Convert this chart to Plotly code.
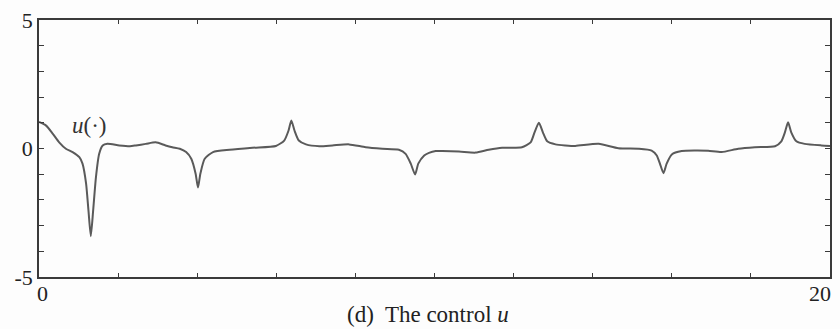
import plotly.graph_objects as go

# Control signal u(t) sampled along the time horizon [0, 20]
t_vals = [
    0.00, 0.18, 0.35, 0.51, 0.68, 0.85, 1.02, 1.10, 1.19, 1.25, 1.31, 1.37, 1.44,
    1.52, 1.61, 1.73, 2.03, 2.30, 2.45, 2.70, 2.95, 3.20, 3.37, 3.56, 3.72, 3.85,
    3.96, 4.02, 4.08, 4.19, 4.40, 4.82, 5.40, 5.99, 6.20, 6.31, 6.38, 6.46, 6.57,
    6.75, 7.09, 7.42, 7.84, 8.26, 8.68, 9.10, 9.27, 9.40, 9.51, 9.59, 9.74, 9.86,
    10.03, 10.20, 10.62, 11.04, 11.37, 11.71, 12.21, 12.43, 12.53, 12.64, 12.74,
    12.85, 13.06, 13.31, 13.56, 14.15, 14.65, 15.16, 15.49, 15.62, 15.70, 15.79,
    15.87, 16.00, 16.25, 16.59, 16.92, 17.26, 17.68, 18.10, 18.61, 18.77, 18.86,
    18.94, 19.02, 19.15, 19.36, 19.78, 20.00,
]
u_vals = [
    1.03, 0.89, 0.57, 0.24, -0.01, -0.14, -0.34, -0.59, -1.36, -2.40, -3.41, -2.40,
    -1.11, -0.21, 0.12, 0.18, 0.12, 0.09, 0.12, 0.18, 0.24, 0.12, 0.05, -0.01,
    -0.14, -0.40, -0.98, -1.52, -0.98, -0.40, -0.14, -0.05, 0.03, 0.10, 0.31, 0.70,
    1.09, 0.70, 0.31, 0.16, 0.09, 0.12, 0.16, 0.05, -0.01, -0.05, -0.21, -0.59,
    -1.01, -0.59, -0.27, -0.17, -0.10, -0.10, -0.12, -0.16, -0.05, 0.03, 0.05,
    0.24, 0.63, 1.00, 0.63, 0.28, 0.16, 0.12, 0.10, 0.18, 0.01, -0.01, -0.08,
    -0.27, -0.59, -0.96, -0.59, -0.23, -0.10, -0.08, -0.09, -0.14, -0.01, 0.05,
    0.09, 0.28, 0.63, 1.02, 0.63, 0.28, 0.18, 0.12, 0.10,
]

y_ticks = [-5, -4, -3, -2, -1, 0, 1, 2, 3, 4, 5]
y_labels = ["-5", "", "", "", "", "0", "", "", "", "", "5"]
x_ticks = [0, 2, 4, 6, 8, 10, 12, 14, 16, 18, 20]

serif = "Liberation Serif, DejaVu Serif, serif"
axis_col = "#3a3a3a"

fig = go.Figure()
fig.add_trace(go.Scatter(
    x=t_vals, y=u_vals, mode="lines",
    line=dict(color="#5a5a5a", width=2, shape="spline", smoothing=0.6),
    showlegend=False, hoverinfo="skip",
))

fig.update_xaxes(
    range=[0, 20], tickvals=x_ticks, showticklabels=False,
    ticks="inside", ticklen=4, tickcolor=axis_col,
    showline=True, linecolor=axis_col, linewidth=1.5, mirror="ticks",
    showgrid=False, zeroline=False,
)
fig.update_yaxes(
    range=[-5, 5], tickvals=y_ticks, ticktext=y_labels,
    ticks="inside", ticklen=5, tickcolor=axis_col,
    showline=True, linecolor=axis_col, linewidth=1.5, mirror="ticks",
    showgrid=False, zeroline=False,
    tickfont=dict(family=serif, size=22, color="#222222"),
)

annotations = [
    dict(x=0, y=0, xref="x", yref="paper", text="0", showarrow=False,
         xanchor="center", yanchor="top", xshift=3, yshift=-2,
         font=dict(family=serif, size=22, color="#222222")),
    dict(x=20, y=0, xref="x", yref="paper", text="20", showarrow=False,
         xanchor="right", yanchor="top", xshift=3, yshift=-2,
         font=dict(family=serif, size=22, color="#222222")),
    dict(x=1.26, y=0.9, xref="x", yref="y", text="<i>u</i>(·)", showarrow=False,
         xanchor="center", yanchor="middle",
         font=dict(family=serif, size=23, color="#333333")),
    dict(x=0.5, y=0, xref="paper", yref="paper", text="(d)  The control <i>u</i>",
         showarrow=False, xanchor="center", yanchor="top", xshift=-7, yshift=-23,
         font=dict(family=serif, size=23, color="#222222")),
]

fig.update_layout(
    width=840, height=329,
    margin=dict(l=39, r=8, t=19, b=52),
    paper_bgcolor="#fdfdfd", plot_bgcolor="#fdfdfd",
    annotations=annotations,
)

fig.write_html("out.html")
